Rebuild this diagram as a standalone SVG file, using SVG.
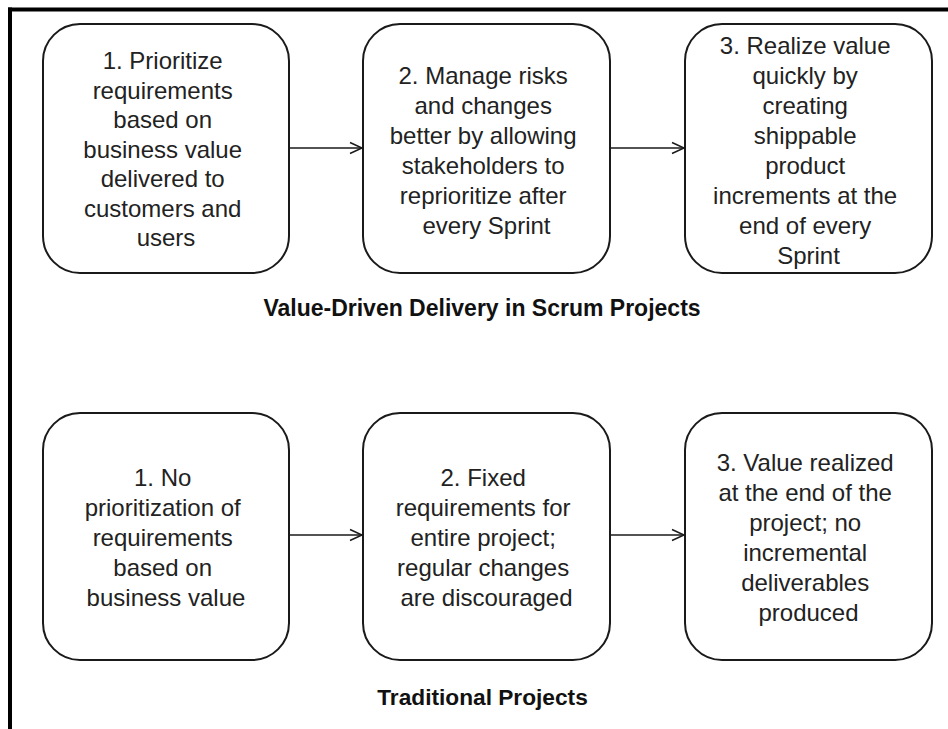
<svg xmlns="http://www.w3.org/2000/svg" width="948" height="729" viewBox="0 0 948 729">
  <defs>
    <marker id="arr" markerUnits="userSpaceOnUse" markerWidth="16" markerHeight="16" viewBox="-14 -8 16 16" refX="0" refY="0" orient="auto">
      <path d="M-12,-5.5 L0,0 L-12,5.5" fill="none" stroke="#1a1a1a" stroke-width="1.5"/>
    </marker>
  </defs>
  <style>
    .box { fill: #ffffff; stroke: #1a1a1a; stroke-width: 2; }
    .t { font-family: "Liberation Sans", Arial, sans-serif; font-size: 24px; fill: #222222; text-anchor: middle; }
    .title { font-family: "Liberation Sans", Arial, sans-serif; font-weight: bold; fill: #111111; text-anchor: middle; }
    .conn { stroke: #1a1a1a; stroke-width: 1.5; fill: none; marker-end: url(#arr); }
  </style>
  <rect x="0" y="0" width="948" height="729" fill="#ffffff"/>
  <g id="frame">
    <line x1="8" y1="9.5" x2="948" y2="9.5" stroke="#000" stroke-width="4"/>
    <line x1="10" y1="7.5" x2="10" y2="729" stroke="#000" stroke-width="4"/>
  </g>

  <g id="scrum1">
    <rect class="box" x="43" y="24" width="246" height="249" rx="37" ry="37"/>
    <text class="t">
      <tspan x="166" y="69">1. Prioritize</tspan>
      <tspan x="166" y="98.5">requirements</tspan>
      <tspan x="166" y="128">based on</tspan>
      <tspan x="166" y="157.5">business value</tspan>
      <tspan x="166" y="187">delivered to</tspan>
      <tspan x="166" y="216.5">customers and</tspan>
      <tspan x="166" y="246">users</tspan>
    </text>
  </g>
  <g id="scrum2">
    <rect class="box" x="363" y="24" width="247" height="249" rx="37" ry="37"/>
    <text class="t">
      <tspan x="486.5" y="83.5">2. Manage risks</tspan>
      <tspan x="486.5" y="113.5">and changes</tspan>
      <tspan x="486.5" y="143.5">better by allowing</tspan>
      <tspan x="486.5" y="173.5">stakeholders to</tspan>
      <tspan x="486.5" y="203.5">reprioritize after</tspan>
      <tspan x="486.5" y="233.5">every Sprint</tspan>
    </text>
  </g>
  <g id="scrum3">
    <rect class="box" x="685" y="24" width="247" height="249" rx="37" ry="37"/>
    <text class="t">
      <tspan x="808.5" y="53.5">3. Realize value</tspan>
      <tspan x="808.5" y="83.5">quickly by</tspan>
      <tspan x="808.5" y="113.5">creating</tspan>
      <tspan x="808.5" y="143.5">shippable</tspan>
      <tspan x="808.5" y="173.5">product</tspan>
      <tspan x="808.5" y="203.5">increments at the</tspan>
      <tspan x="808.5" y="233.5">end of every</tspan>
      <tspan x="808.5" y="263.5">Sprint</tspan>
    </text>
  </g>
  <g id="title-scrum">
    <text class="title" x="482" y="316" font-size="23">Value-Driven Delivery in Scrum Projects</text>
  </g>

  <g id="trad1">
    <rect class="box" x="43" y="413" width="246" height="247" rx="37" ry="37"/>
    <text class="t">
      <tspan x="166" y="486">1. No</tspan>
      <tspan x="166" y="516">prioritization of</tspan>
      <tspan x="166" y="546">requirements</tspan>
      <tspan x="166" y="576">based on</tspan>
      <tspan x="166" y="606">business value</tspan>
    </text>
  </g>
  <g id="trad2">
    <rect class="box" x="363" y="413" width="247" height="247" rx="37" ry="37"/>
    <text class="t">
      <tspan x="486.5" y="486">2. Fixed</tspan>
      <tspan x="486.5" y="516">requirements for</tspan>
      <tspan x="486.5" y="546">entire project;</tspan>
      <tspan x="486.5" y="576">regular changes</tspan>
      <tspan x="486.5" y="606">are discouraged</tspan>
    </text>
  </g>
  <g id="trad3">
    <rect class="box" x="685" y="413" width="247" height="247" rx="37" ry="37"/>
    <text class="t">
      <tspan x="808.5" y="471">3. Value realized</tspan>
      <tspan x="808.5" y="501">at the end of the</tspan>
      <tspan x="808.5" y="531">project; no</tspan>
      <tspan x="808.5" y="561">incremental</tspan>
      <tspan x="808.5" y="591">deliverables</tspan>
      <tspan x="808.5" y="621">produced</tspan>
    </text>
  </g>
  <g id="title-trad">
    <text class="title" x="482.5" y="705" font-size="22.7">Traditional Projects</text>
  </g>

  <g id="connectors">
    <line class="conn" x1="289" y1="148" x2="362" y2="148"/>
    <line class="conn" x1="610" y1="148" x2="684" y2="148"/>
    <line class="conn" x1="289" y1="535" x2="362" y2="535"/>
    <line class="conn" x1="610" y1="535" x2="684" y2="535"/>
  </g>
</svg>
